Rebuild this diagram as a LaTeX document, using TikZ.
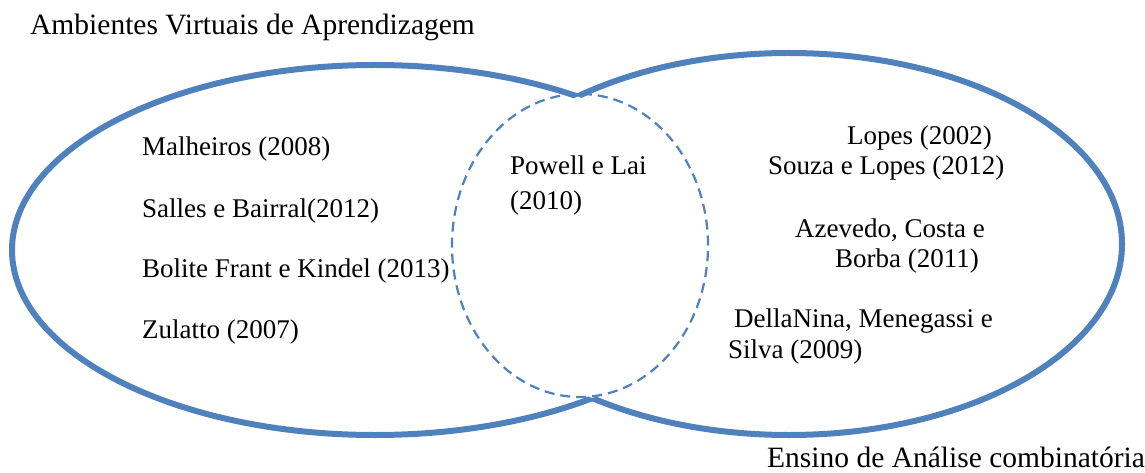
\documentclass[tikz,border=0pt]{standalone}
\usepackage{fontspec}
\setmainfont{Liberation Serif}
\definecolor{setblue}{HTML}{4F81BD}
\tikzset{
  setline/.style={draw=setblue, line width=6pt},
  overlapline/.style={draw=setblue, line width=2.2pt, dash pattern=on 10pt off 6pt},
  ref/.style={inner sep=0pt, font=\fontsize{27}{31}\selectfont},
  settitle/.style={inner sep=0pt, font=\fontsize{29.5}{34}\selectfont},
}
\begin{document}
\begin{tikzpicture}[x=1pt, y=-1pt]
\useasboundingbox (0,0) rectangle (1145,473);

% left set: drawn only outside the right set
\begin{scope}[even odd rule]
  \clip (-20,-20) rectangle (1165,493)
        (789,244) ellipse [x radius=333pt, y radius=191pt];
  \draw[setline] (375,250) ellipse [x radius=363pt, y radius=185pt];
\end{scope}

% right set: drawn only outside the left set
\begin{scope}[even odd rule]
  \clip (-20,-20) rectangle (1165,493)
        (375,250) ellipse [x radius=363pt, y radius=185pt];
  \draw[setline] (789,244) ellipse [x radius=333pt, y radius=191pt];
\end{scope}

% overlap
\draw[overlapline] (580,245.5) ellipse [x radius=128pt, y radius=151.5pt];

% set titles
\node[settitle, anchor=base west] (avatitle) at (30,35) {Ambientes Virtuais de Aprendizagem};
\node[settitle, anchor=base west] (eactitle) at (767,467) {Ensino de Análise combinatória};

% left-only references
\node[ref, anchor=base west] (malheiros) at (142,156) {Malheiros (2008)};
\node[ref, anchor=base west] (salles) at (142,217) {Salles e Bairral(2012)};
\node[ref, anchor=base west] (bolite) at (142,277) {Bolite Frant e Kindel (2013)};
\node[ref, anchor=base west] (zulatto) at (142,338) {Zulatto (2007)};

% shared reference
\node[ref, anchor=base west] (powell1) at (510,175) {Powell e Lai};
\node[ref, anchor=base west] (powell2) at (510,210) {(2010)};

% right-only references
\node[ref, anchor=base west] (lopes) at (847,145) {Lopes (2002)};
\node[ref, anchor=base west] (souza) at (768,175) {Souza e Lopes (2012)};
\node[ref, anchor=base west] (azevedo1) at (795,237) {Azevedo, Costa e};
\node[ref, anchor=base west] (azevedo2) at (835,267) {Borba (2011)};
\node[ref, anchor=base west] (della1) at (734,327) {DellaNina, Menegassi e};
\node[ref, anchor=base west] (della2) at (728,358) {Silva (2009)};
\end{tikzpicture}
\end{document}
